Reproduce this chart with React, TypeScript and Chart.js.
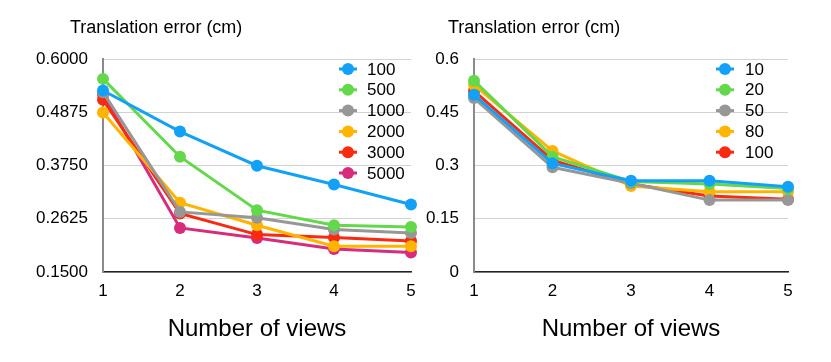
import React, { useEffect, useRef } from "react";
import { Chart, registerables } from "chart.js";

Chart.register(...registerables);

const FONT = "'Liberation Sans', Arial, Helvetica, sans-serif";

// Shared x categories
const VIEWS = ["1", "2", "3", "4", "5"];

// Left chart data
const LEFT_NAMES = ["100", "500", "1000", "2000", "3000", "5000"];
const L_100 = [0.5335, 0.4466, 0.3745, 0.335, 0.2927];
const L_500 = [0.558, 0.3936, 0.2807, 0.2489, 0.2453];
const L_1000 = [0.53, 0.277, 0.2644, 0.2398, 0.2326];
const L_2000 = [0.487, 0.2962, 0.2489, 0.2044, 0.2044];
const L_3000 = [0.5138, 0.2736, 0.229, 0.2228, 0.2156];
const L_5000 = [0.525, 0.2432, 0.222, 0.1987, 0.191];
const LEFT_TICKS = [0.15, 0.2625, 0.375, 0.4875, 0.6];

// Right chart data
const RIGHT_NAMES = ["10", "20", "50", "80", "100"];
const R_10 = [0.499, 0.306, 0.257, 0.257, 0.24];
const R_20 = [0.539, 0.325, 0.255, 0.248, 0.2355];
const R_50 = [0.49, 0.295, 0.25, 0.2025, 0.2025];
const R_80 = [0.527, 0.341, 0.242, 0.226, 0.226];
const R_100 = [0.51, 0.315, 0.248, 0.214, 0.205];
const RIGHT_TICKS = [0, 0.15, 0.3, 0.45, 0.6];

const COLORS = ["#13A1F7", "#63D84B", "#979797", "#FFB400", "#F82A10", "#D82B7C"];

const Y_TITLE = "Translation error (cm)";
const X_TITLE = "Number of views";

const overlayPlugin = {
  id: "overlay",
  afterDraw(chart: any, _args: any, opts: any) {
    const ctx = chart.ctx;
    ctx.save();
    ctx.fillStyle = "#000";
    ctx.textBaseline = "middle";
    ctx.textAlign = "left";
    ctx.font = `18px ${FONT}`;
    ctx.fillText(opts.title, opts.titleX, opts.titleY);
    ctx.font = `17px ${FONT}`;
    chart.data.datasets.forEach((ds: any, i: number) => {
      const y = opts.legendY + i * opts.legendStep;
      const cx = opts.markerX;
      ctx.strokeStyle = ds.borderColor;
      ctx.lineWidth = 3;
      ctx.beginPath();
      ctx.moveTo(cx - 9, y);
      ctx.lineTo(cx + 9, y);
      ctx.stroke();
      ctx.fillStyle = ds.borderColor;
      ctx.beginPath();
      ctx.arc(cx, y, 6, 0, Math.PI * 2);
      ctx.fill();
      ctx.fillStyle = "#000";
      ctx.fillText(ds.label, opts.textX, y + 1);
    });
    ctx.restore();
  },
};

function makeConfig(
  names: string[],
  series: number[][],
  ticks: number[],
  fmt: (v: number) => string,
  yWidth: number,
  padRight: number,
  overlay: any
): any {
  return {
    type: "line",
    data: {
      labels: VIEWS,
      datasets: series.map((d, i) => ({
        label: names[i],
        data: d,
        borderColor: COLORS[i],
        backgroundColor: COLORS[i],
        pointBackgroundColor: COLORS[i],
        pointBorderWidth: 0,
        pointRadius: 6,
        borderWidth: 3,
        tension: 0,
        clip: false,
      })),
    },
    options: {
      responsive: false,
      animation: false,
      layout: { padding: { top: 51, right: padRight, left: 0, bottom: 8 } },
      plugins: {
        legend: { display: false },
        tooltip: { enabled: false },
        title: { display: false },
        overlay,
      },
      scales: {
        x: {
          type: "category",
          offset: false,
          grid: { display: false, drawTicks: false },
          border: { color: "#222", width: 1.5 },
          ticks: { color: "#000", font: { size: 17, family: FONT }, padding: 9, maxRotation: 0 },
          title: {
            display: true,
            text: X_TITLE,
            color: "#000",
            font: { size: 24, family: FONT },
            padding: { top: 0, bottom: 2 },
          },
          afterFit(s: any) {
            s.height = 74;
            s.paddingRight = 0;
          },
        },
        y: {
          min: ticks[0],
          max: ticks[ticks.length - 1],
          afterBuildTicks(s: any) {
            s.ticks = ticks.map((v) => ({ value: v }));
          },
          grid: { color: "#d2d2d2", lineWidth: 1, drawTicks: false },
          border: { color: "#8a8a8a", width: 2 },
          ticks: {
            color: "#000",
            font: { size: 17, family: FONT },
            padding: 15,
            callback: (v: any) => fmt(Number(v)),
          },
          afterFit(s: any) {
            s.width = yWidth;
          },
        },
      },
    },
    plugins: [overlayPlugin],
  };
}

export default function App() {
  const leftRef = useRef<HTMLCanvasElement | null>(null);
  const rightRef = useRef<HTMLCanvasElement | null>(null);

  useEffect(() => {
    Chart.defaults.font.family = FONT;
    const left = new Chart(
      leftRef.current as HTMLCanvasElement,
      makeConfig(
        LEFT_NAMES,
        [L_100, L_500, L_1000, L_2000, L_3000, L_5000],
        LEFT_TICKS,
        (v) => v.toFixed(4),
        95,
        7,
        { title: Y_TITLE, titleX: 62, titleY: 20, markerX: 340, textX: 359, legendY: 61, legendStep: 20.8 }
      )
    );
    const right = new Chart(
      rightRef.current as HTMLCanvasElement,
      makeConfig(
        RIGHT_NAMES,
        [R_10, R_20, R_50, R_80, R_100],
        RIGHT_TICKS,
        (v) => String(Math.round(v * 100) / 100),
        56,
        35,
        { title: Y_TITLE, titleX: 30, titleY: 20, markerX: 307, textX: 327, legendY: 61, legendStep: 20.8 }
      )
    );
    return () => {
      left.destroy();
      right.destroy();
    };
  }, []);

  return (
    <div style={{ position: "relative", width: 815, height: 346 }}>
      <canvas
        ref={leftRef}
        width={410}
        height={346}
        style={{ position: "absolute", left: 0, top: 0, width: 410, height: 346 }}
      />
      <canvas
        ref={rightRef}
        width={405}
        height={346}
        style={{ position: "absolute", left: 410, top: 0, width: 405, height: 346 }}
      />
    </div>
  );
}
